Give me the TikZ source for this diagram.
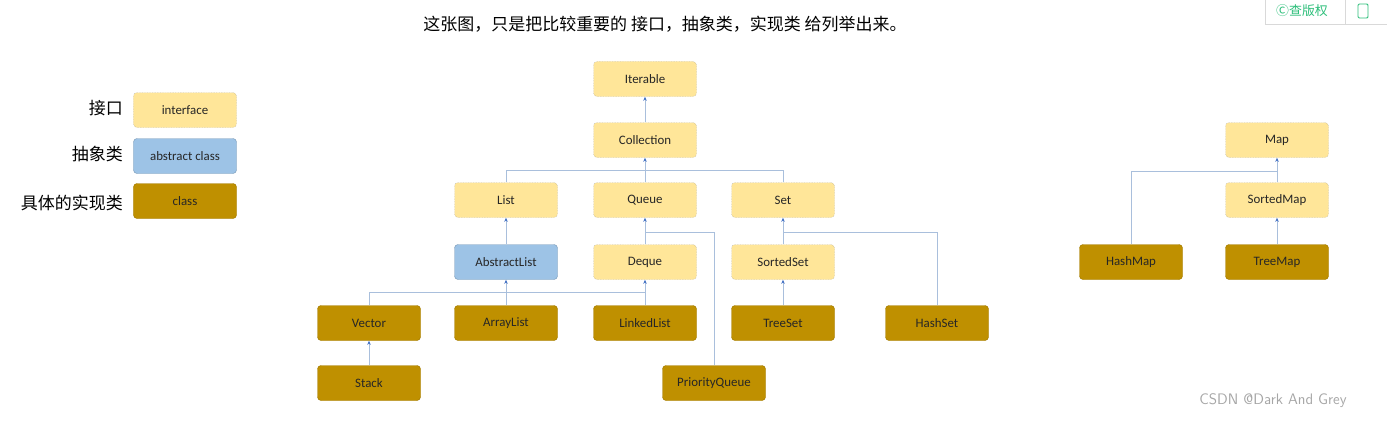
\documentclass[tikz,border=0pt]{standalone}
\usepackage{fontspec}
\setmainfont{Carlito}
\newfontfamily\cjk{Noto Sans CJK SC}
\usetikzlibrary{arrows.meta}
\definecolor{ifill}{HTML}{FFE699}
\definecolor{afill}{HTML}{9DC3E6}
\definecolor{cfill}{HTML}{BF9000}
\definecolor{lnk}{HTML}{A9BFDC}
\definecolor{tip}{HTML}{4472C4}
\definecolor{grn}{HTML}{2DBE7A}
\begin{document}
\begin{tikzpicture}[x=0.03cm,y=-0.03cm,
  base/.style={rounded corners=3pt,minimum width=3.09cm,minimum height=1.05cm,font=\fontsize{11}{13}\selectfont,text=black!85},
  iface/.style={base,fill=ifill,draw=gray!70,densely dotted},
  abs/.style={base,fill=afill,draw=afill!80!black},
  cls/.style={base,fill=cfill,draw=cfill!85!black},
  lk/.style={draw=lnk,line width=0.7pt},
  ar/.style={lk,-{Stealth[length=3.5pt,width=3pt,color=tip]}},
  lab/.style={font=\cjk\fontsize{14.5}{16}\selectfont,anchor=east}]
\useasboundingbox (0,0) rectangle (1387,421);
\node[font=\cjk\fontsize{14.5}{16}\selectfont] (title) at (665,24) {这张图，只是把比较重要的\ 接口，抽象类，实现类\ 给列举出来。};
% legend
\node[iface] (li) at (185,110) {interface};
\node[abs] (la) at (185,156) {abstract class};
\node[cls] (lc) at (185,201) {class};
\node[lab] (t1) at (127,108) {接口};
\node[lab] (t2) at (127,154) {抽象类};
\node[lab] (t3) at (127,203) {具体的实现类};
% nodes
\node[iface] (Iter) at (645,79) {Iterable};
\node[iface] (Coll) at (645,140) {Collection};
\node[iface] (List) at (506,200) {List};
\node[iface] (Queue) at (645,200) {Queue};
\node[iface] (Set) at (783,200) {Set};
\node[abs] (AL) at (506,262) {AbstractList};
\node[iface] (Deque) at (645,262) {Deque};
\node[iface] (SS) at (783,262) {SortedSet};
\node[cls] (Vec) at (369,323) {Vector};
\node[cls] (ArrL) at (506,323) {ArrayList};
\node[cls] (LL) at (645,323) {LinkedList};
\node[cls] (TS) at (783,323) {TreeSet};
\node[cls] (HS) at (937,323) {HashSet};
\node[cls] (Stack) at (369,383) {Stack};
\node[cls] (PQ) at (714,383) {PriorityQueue};
\node[iface] (Map) at (1277,140) {Map};
\node[iface] (SM) at (1277,200) {SortedMap};
\node[cls] (HM) at (1131,262) {HashMap};
\node[cls] (TM) at (1277,262) {TreeMap};
% connectors
\draw[ar] (Coll) -- (Iter);
\draw[ar] (Queue) -- (Coll);
\draw[lk] (List.north) |- (645,170);
\draw[lk] (Set.north) |- (645,170);
\draw[ar] (AL) -- (List);
\draw[ar] (Deque) -- (Queue);
\draw[lk] (PQ.north) |- (645,232);
\draw[ar] (ArrL) -- (AL);
\draw[ar] (LL) -- (Deque);
\draw[lk] (Vec.north) |- (645,292);
\draw[ar] (Stack) -- (Vec);
\draw[ar] (SS) -- (Set);
\draw[ar] (TS) -- (SS);
\draw[lk] (HS.north) |- (783,232);
\draw[ar] (SM) -- (Map);
\draw[ar] (TM) -- (SM);
\draw[lk] (HM.north) |- (1277,171);
% widget & watermark
\draw[gray!30,line width=0.8pt] (1265,-2) |- (1387,24) coordinate (wb);
\draw[gray!30,line width=0.8pt] (1345,0) -- (1345,24);
\node[font=\cjk\fontsize{11}{12}\selectfont,text=grn] (w1) at (1302,11) {Ⓒ查版权};
\draw[grn,line width=0.8pt,rounded corners=1pt] (1358,4) rectangle (1368,18);
\node[font=\sffamily\fontsize{13}{14}\selectfont,text=gray!70] (wm) at (1273,401) {CSDN @Dark And Grey};
\end{tikzpicture}
\end{document}
